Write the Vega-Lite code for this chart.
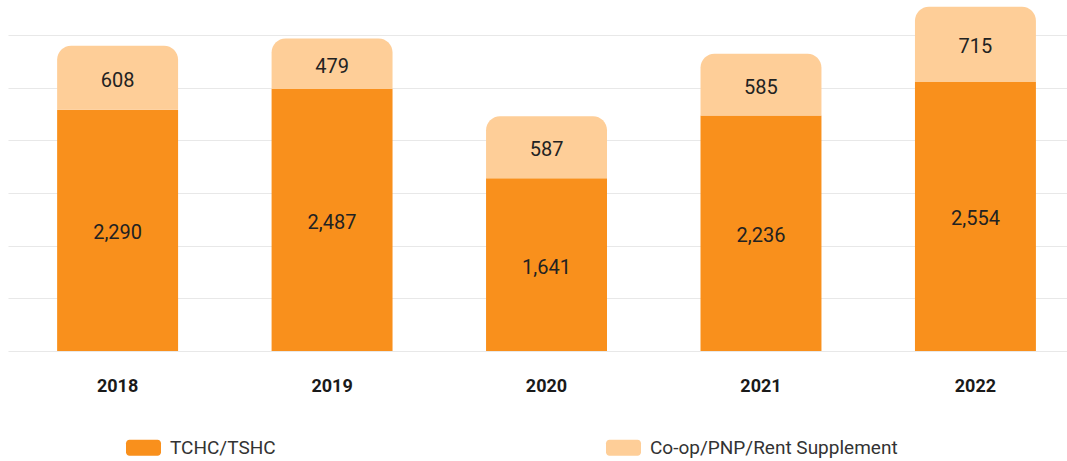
{
  "$schema": "https://vega.github.io/schema/vega-lite/v6.json",
  "width": 1059,
  "height": 351,
  "autosize": "none",
  "padding": {"left": 8, "top": 0, "right": 0, "bottom": 110},
  "background": "white",
  "config": {"view": {"stroke": null}, "font": "Roboto"},
  "data": {
    "values": [
      {"year": "2018", "series": "TCHC/TSHC", "count": 2290},
      {"year": "2018", "series": "Co-op/PNP/Rent Supplement", "count": 608},
      {"year": "2019", "series": "TCHC/TSHC", "count": 2487},
      {"year": "2019", "series": "Co-op/PNP/Rent Supplement", "count": 479},
      {"year": "2020", "series": "TCHC/TSHC", "count": 1641},
      {"year": "2020", "series": "Co-op/PNP/Rent Supplement", "count": 587},
      {"year": "2021", "series": "TCHC/TSHC", "count": 2236},
      {"year": "2021", "series": "Co-op/PNP/Rent Supplement", "count": 585},
      {"year": "2022", "series": "TCHC/TSHC", "count": 2554},
      {"year": "2022", "series": "Co-op/PNP/Rent Supplement", "count": 715}
    ]
  },
  "transform": [
    {"stack": "count", "groupby": ["year"], "sort": [{"field": "series", "order": "descending"}], "as": ["y0", "y1"]}
  ],
  "encoding": {
    "x": {
      "field": "year", "type": "nominal",
      "scale": {"paddingInner": 0.436, "paddingOuter": 0.187, "align": 0.6125},
      "axis": {"title": null, "domain": false, "ticks": false, "labelAngle": 0, "labelFont": "Roboto", "labelFontWeight": "bold", "labelFontSize": 18, "labelColor": "#1a1a1a", "labelPadding": 26}
    }
  },
  "layer": [
    {
      "transform": [{"filter": {"field": "series", "equal": "TCHC/TSHC"}}],
      "mark": {"type": "bar"},
      "encoding": {
        "y": {
          "field": "y0", "type": "quantitative",
          "scale": {"domain": [0, 3332], "nice": false},
          "axis": {"title": null, "labels": false, "ticks": false, "domain": false, "grid": true, "gridColor": "#e8e8e8", "gridWidth": 1.2, "values": [0, 500, 1000, 1500, 2000, 2500, 3000]}
        },
        "y2": {"field": "y1"},
        "color": {
          "field": "series", "type": "nominal",
          "scale": {"domain": ["TCHC/TSHC", "Co-op/PNP/Rent Supplement"], "range": ["#F9901C", "#FECE98"]},
          "legend": {
            "title": null, "orient": "none", "direction": "horizontal", "legendX": 118, "legendY": 430, "padding": 0,
            "symbolType": "M-0.8,-0.457 H0.8 A0.2,0.2 0 0 1 1,-0.257 V0.257 A0.2,0.2 0 0 1 0.8,0.457 H-0.8 A0.2,0.2 0 0 1 -1,0.257 V-0.257 A0.2,0.2 0 0 1 -0.8,-0.457 Z",
            "symbolSize": 1225, "symbolStrokeWidth": 0, "symbolOpacity": 1,
            "labelFont": "Roboto", "labelFontSize": 19, "labelColor": "#333333", "labelOffset": 9, "columnPadding": 330, "labelLimit": 400
          }
        }
      }
    },
    {
      "transform": [{"filter": {"field": "series", "equal": "Co-op/PNP/Rent Supplement"}}],
      "mark": {"type": "bar", "cornerRadiusTopLeft": 14, "cornerRadiusTopRight": 14},
      "encoding": {
        "y": {"field": "y0", "type": "quantitative"},
        "y2": {"field": "y1"},
        "color": {"field": "series", "type": "nominal"}
      }
    },
    {
      "transform": [
        {"fold": ["y0", "y1"], "as": ["k", "v"]},
        {"aggregate": [{"op": "mean", "field": "v", "as": "mid"}], "groupby": ["year", "series", "count"]}
      ],
      "mark": {"type": "text", "font": "Roboto", "fontSize": 20, "color": "#222222", "baseline": "middle", "align": "center", "dy": 3},
      "encoding": {
        "y": {"field": "mid", "type": "quantitative"},
        "text": {"field": "count", "type": "quantitative", "format": ","}
      }
    }
  ]
}
